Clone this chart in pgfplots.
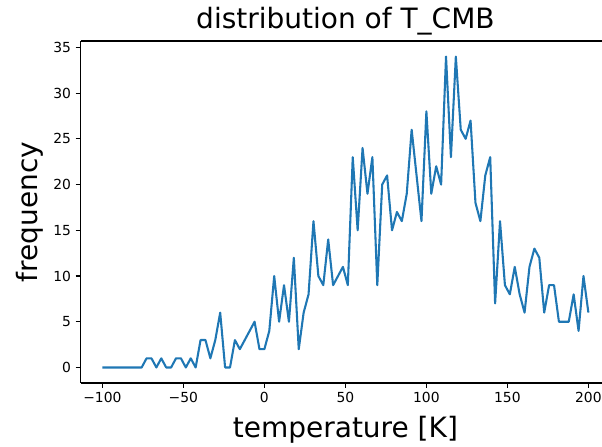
\documentclass[border=0pt]{standalone}
\usepackage{pgfplots}
\pgfplotsset{compat=1.18}
\usepackage{fontspec}
\setmainfont{DejaVu Sans}
\definecolor{mplblue}{HTML}{1F77B4}
\begin{document}
\begin{tikzpicture}
\begin{axis}[
  name=ax,
  scale only axis,
  width=391.1pt, height=256.5pt,
  xmin=-113.5, xmax=208.4,
  ymin=-1.7, ymax=35.7,
  axis x line*=box, axis y line*=left,
  xtick pos=bottom, ytick pos=left,
  tick align=outside,
  major tick length=3.6pt,
  every tick/.style={black, line width=0.8pt},
  axis line style={black, line width=0.8pt},
  xtick={-100,-50,0,50,100,150,200},
  xticklabels={−100,−50,0,50,100,150,200},
  ytick={0,5,10,15,20,25,30,35},
  /pgf/number format/assume math mode=true,
  tick label style={font=\fontsize{10.4}{12}\selectfont, text=black},
  every axis title shift=0pt,
  title={distribution of T\_CMB},
  title style={font=\fontsize{21}{25}\selectfont, at={(axis description cs:0.508,1.057)}, anchor=center},
  xlabel={temperature [K]},
  xlabel style={font=\fontsize{21}{25}\selectfont, at={(axis description cs:0.508,-0.1365)}, anchor=center},
  ylabel={frequency},
  ylabel style={font=\fontsize{21}{25}\selectfont, at={(axis description cs:-0.097,0.5)}, anchor=center},
]
\addplot[mplblue, line width=1.56pt, line join=round, mark=none] table {
x y
-100 0
-96.9697 0
-93.9394 0
-90.9091 0
-87.8788 0
-84.8485 0
-81.8182 0
-78.7879 0
-75.7576 0
-72.7273 1
-69.6970 1
-66.6667 0
-63.6364 1
-60.6061 0
-57.5758 0
-54.5455 1
-51.5152 1
-48.4848 0
-45.4545 1
-42.4242 0
-39.3939 3
-36.3636 3
-33.3333 1
-30.3030 3
-27.2727 6
-24.2424 0
-21.2121 0
-18.1818 3
-15.1515 2
-12.1212 3
-9.0909 4
-6.0606 5
-3.0303 2
0 2
3.0303 4
6.0606 10
9.0909 5
12.1212 9
15.1515 5
18.1818 12
21.2121 2
24.2424 6
27.2727 8
30.3030 16
33.3333 10
36.3636 9
39.3939 14
42.4242 9
45.4545 10
48.4848 11
51.5152 9
54.5455 23
57.5758 15
60.6061 24
63.6364 19
66.6667 23
69.6970 9
72.7273 20
75.7576 21
78.7879 15
81.8182 17
84.8485 16
87.8788 19
90.9091 26
93.9394 21
96.9697 16
100 28
103.0303 19
106.0606 22
109.0909 20
112.1212 34
115.1515 23
118.1818 34
121.2121 26
124.2424 25
127.2727 27
130.3030 18
133.3333 16
136.3636 21
139.3939 23
142.4242 7
145.4545 16
148.4848 9
151.5152 8
154.5455 11
157.5758 8
160.6061 6
163.6364 11
166.6667 13
169.6970 12
172.7273 6
175.7576 9
178.7879 9
181.8182 5
184.8485 5
187.8788 5
190.9091 8
193.9394 4
196.9697 10
200 6
};
\end{axis}
\pgfresetboundingbox
\path[use as bounding box] ([xshift=-60.375pt,yshift=-47.25pt]ax.south west) rectangle ([yshift=30.75pt]ax.north east);
\end{tikzpicture}
\end{document}
